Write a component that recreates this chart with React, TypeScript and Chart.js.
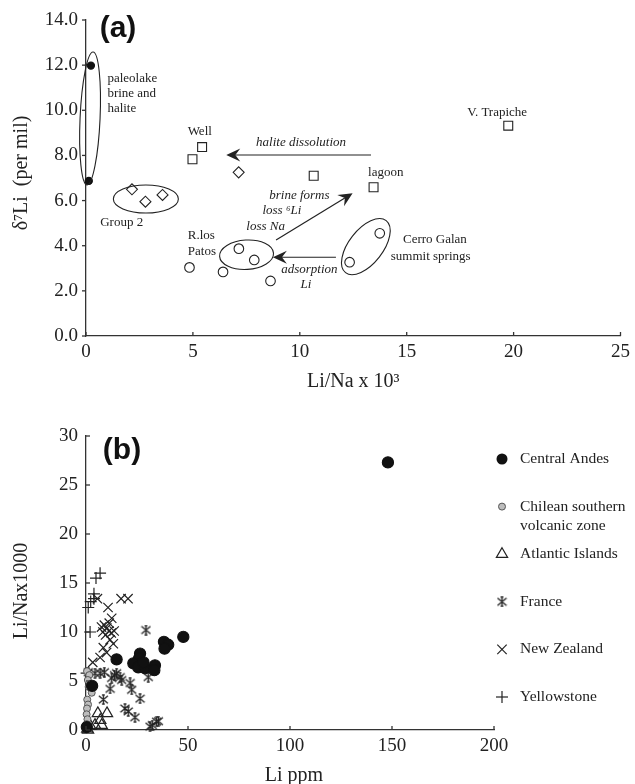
import React, { useEffect, useRef } from 'react';
import { Chart, registerables } from 'chart.js';

Chart.register(...registerables);

const SERIF = '"Liberation Serif", "Times New Roman", serif';
const SANS = '"Liberation Sans", Arial, sans-serif';
const INK = '#222';
const AXIS = '#333';

// ---------- Panel (a) data ----------
const aXTicks = [0, 5, 10, 15, 20, 25];
const aYTicks = [0, 2, 4, 6, 8, 10, 12, 14];
const aPaleoX = [0.23, 0.13];
const aPaleoY = [11.98, 6.87];
const aSquareX = [4.98, 5.43, 10.65, 13.45, 19.75];
const aSquareY = [7.83, 8.37, 7.1, 6.59, 9.32];
const aDiamondX = [2.15, 2.78, 3.58, 7.14];
const aDiamondY = [6.5, 5.95, 6.25, 7.25];
const aCircleX = [4.84, 6.41, 7.15, 7.87, 8.63, 12.33, 13.74];
const aCircleY = [3.04, 2.84, 3.87, 3.37, 2.44, 3.27, 4.55];

// ---------- Panel (b) data ----------
const bXTicks = [0, 50, 100, 150, 200];
const bYTicks = [0, 5, 10, 15, 20, 25, 30];
const bLegendNames = ['Central Andes', 'Chilean southern', 'Atlantic Islands', 'France', 'New Zealand', 'Yellowstone'];
const bAndesX = [148, 47.7, 38.2, 40.3, 38.5, 15.0, 26.5, 26.0, 23.2, 27.3, 25.6, 28.9, 28.2, 33.8, 33.5, 3.0, 0.4];
const bAndesY = [27.3, 9.5, 9.0, 8.7, 8.3, 7.2, 7.8, 7.3, 6.8, 6.8, 6.4, 6.3, 6.9, 6.6, 6.1, 4.5, 0.3];
const bChileX = [0.5, 1.6, 0.9, 1.3, 2.8, 0.6, 1.0, 0.5, 0.3, 0.7, 0.3, 0.5, 1.2];
const bChileY = [6.0, 5.6, 5.1, 4.4, 3.8, 3.1, 2.6, 2.2, 1.6, 1.1, 0.6, 0.2, 0.0];
const bAtlX = [5.8, 10.3, 7.0, 4.4, 7.7, 2.2, 0.6, 1.0];
const bAtlY = [1.7, 1.7, 1.0, 0.5, 0.5, 0.4, 0.1, 0.0];
const bFranceX = [29.4, 1.1, 4.4, 6.9, 9.0, 15.0, 16.7, 12.6, 14.0, 21.6, 11.8, 22.4, 30.5, 26.5, 8.5, 19.1, 20.7, 24.0, 31.4, 32.5, 34.6, 35.5, 17.5];
const bFranceY = [10.2, 5.9, 5.8, 5.8, 5.9, 5.8, 5.4, 5.3, 5.6, 4.8, 4.2, 4.1, 5.4, 3.2, 3.1, 2.2, 1.9, 1.3, 0.35, 0.5, 0.85, 0.9, 5.1];
const bNZX = [5.6, 10.8, 17.2, 20.6, 12.6, 11.4, 9.0, 10.2, 11.2, 8.3, 9.6, 12.4, 13.8, 7.6, 13.4, 11.8, 10.1, 8.5, 6.9, 3.3];
const bNZY = [13.4, 12.5, 13.4, 13.4, 11.4, 10.9, 10.7, 10.4, 10.1, 10.0, 9.7, 9.9, 10.1, 10.5, 8.8, 9.2, 7.9, 8.4, 7.4, 6.9];
const bYellX = [6.9, 4.9, 3.9, 2.3, 1.1, 2.0, 3.9, 0.3];
const bYellY = [16.0, 15.5, 13.9, 13.1, 12.5, 10.0, 13.4, 5.8];

// ---------- annotations for (a), anchored in data coordinates ----------
const aNotes = [
  { t: 'paleolake', x: 1.0, y: 11.4, left: true },
  { t: 'brine and', x: 1.0, y: 10.75, left: true },
  { t: 'halite', x: 1.0, y: 10.09, left: true },
  { t: 'Well', x: 5.32, y: 9.04 },
  { t: 'V. Trapiche', x: 19.23, y: 9.91 },
  { t: 'halite dissolution', x: 10.06, y: 8.56, it: true },
  { t: 'lagoon', x: 14.02, y: 7.25 },
  { t: 'Group 2', x: 1.67, y: 5.02 },
  { t: 'brine forms', x: 9.98, y: 6.22, it: true },
  { t: 'loss \u2076Li', x: 9.16, y: 5.54, it: true },
  { t: 'loss Na', x: 8.4, y: 4.84, it: true },
  { t: 'R.los', x: 4.76, y: 4.43, left: true },
  { t: 'Patos', x: 4.76, y: 3.72, left: true },
  { t: 'adsorption', x: 10.45, y: 2.96, it: true },
  { t: 'Li', x: 10.29, y: 2.29, it: true },
  { t: 'Cerro Galan', x: 16.32, y: 4.28 },
  { t: 'summit springs', x: 16.12, y: 3.54 },
];
const aEllipses = [
  { x: 0.19, y: 9.64, rx: 10, ry: 66.5, rot: 0.045 },
  { x: 2.8, y: 6.07, rx: 32.5, ry: 14, rot: 0 },
  { x: 7.51, y: 3.6, rx: 27, ry: 14.7, rot: -0.06 },
  { x: 13.09, y: 3.96, rx: 33, ry: 17, rot: (-52 * Math.PI) / 180 },
];
const aArrows = [
  { x1: 13.33, y1: 8.02, x2: 6.56, y2: 8.02 },
  { x1: 8.89, y1: 4.25, x2: 12.47, y2: 6.32 },
  { x1: 11.69, y1: 3.49, x2: 8.74, y2: 3.49 },
];

const pts = (xs: number[], ys: number[]) => xs.map((x, i) => ({ x, y: ys[i] }));

function seg(ctx: CanvasRenderingContext2D, x1: number, y1: number, x2: number, y2: number) {
  ctx.beginPath();
  ctx.moveTo(x1, y1);
  ctx.lineTo(x2, y2);
  ctx.stroke();
}

function arrow(ctx: CanvasRenderingContext2D, x1: number, y1: number, x2: number, y2: number) {
  const a = Math.atan2(y2 - y1, x2 - x1);
  const c = Math.cos(a), s = Math.sin(a);
  const L = 14, W = 6.5, N = 0.65;
  seg(ctx, x1, y1, x2 - c * L * N, y2 - s * L * N);
  ctx.beginPath();
  ctx.moveTo(x2, y2);
  ctx.lineTo(x2 - c * L + s * W, y2 - s * L - c * W);
  ctx.lineTo(x2 - c * L * N, y2 - s * L * N);
  ctx.lineTo(x2 - c * L - s * W, y2 - s * L + c * W);
  ctx.closePath();
  ctx.fill();
}

function makeStar(size: number) {
  const c = document.createElement('canvas');
  c.width = size;
  c.height = size;
  const g = c.getContext('2d')!;
  const h = size / 2, a = size / 2 - 1;
  g.strokeStyle = INK;
  g.lineWidth = 1.3;
  g.beginPath();
  g.moveTo(h - a, h - a * 0.85); g.lineTo(h + a, h + a * 0.85);
  g.moveTo(h - a, h + a * 0.85); g.lineTo(h + a, h - a * 0.85);
  g.moveTo(h, h - a); g.lineTo(h, h + a);
  g.moveTo(h - a * 0.3, h - a); g.lineTo(h + a * 0.3, h - a);
  g.moveTo(h - a * 0.3, h + a); g.lineTo(h + a * 0.3, h + a);
  g.stroke();
  return c;
}

function axis(min: number, max: number, step: number, kind: 'x' | 'y', fit: number, fmt?: (v: number) => string) {
  return {
    type: 'linear' as const,
    min,
    max,
    grid: { display: true, drawOnChartArea: false, drawTicks: false },
    border: { display: true, color: AXIS, width: 1.3 },
    ticks: {
      stepSize: step,
      color: INK,
      font: { family: SERIF, size: 19 },
      padding: kind === 'x' ? 5 : 8,
      maxRotation: 0,
      autoSkip: false,
      callback: (v: any) => (fmt ? fmt(Number(v)) : String(v)),
    },
    afterFit: (s: any) => {
      if (kind === 'x') s.height = fit;
      else s.width = fit;
    },
  };
}

const panelAPlugin = {
  id: 'panelA',
  afterDraw(chart: any) {
    const { ctx, chartArea: ca, scales } = chart;
    const X = (v: number) => scales.x.getPixelForValue(v);
    const Y = (v: number) => scales.y.getPixelForValue(v);
    ctx.save();
    ctx.strokeStyle = AXIS;
    ctx.lineWidth = 1.3;
    aYTicks.forEach((v) => seg(ctx, ca.left - 4, Y(v), ca.left, Y(v)));
    aXTicks.forEach((v) => seg(ctx, X(v), ca.bottom, X(v), ca.bottom - 4));

    ctx.strokeStyle = INK;
    ctx.fillStyle = INK;
    ctx.lineWidth = 1.1;
    aEllipses.forEach((e) => {
      ctx.beginPath();
      ctx.ellipse(X(e.x), Y(e.y), e.rx, e.ry, e.rot, 0, Math.PI * 2);
      ctx.stroke();
    });
    ctx.lineWidth = 1.2;
    aArrows.forEach((r) => arrow(ctx, X(r.x1), Y(r.y1), X(r.x2), Y(r.y2)));

    ctx.textBaseline = 'middle';
    aNotes.forEach((n) => {
      ctx.font = `${n.it ? 'italic ' : ''}13px ${SERIF}`;
      ctx.textAlign = n.left ? 'left' : 'center';
      ctx.fillText(n.t, X(n.x), Y(n.y));
    });

    ctx.font = `bold 30px ${SANS}`;
    ctx.textAlign = 'center';
    ctx.fillStyle = '#111';
    ctx.fillText('(a)', ca.left + 32, ca.top + 9);

    ctx.fillStyle = INK;
    ctx.font = `20px ${SERIF}`;
    ctx.fillText('Li/Na x 10\u00b3', (ca.left + ca.right) / 2, ca.bottom + 46);
    ctx.save();
    ctx.translate(ca.left - 64, (ca.top + ca.bottom) / 2 - 5);
    ctx.rotate(-Math.PI / 2);
    ctx.fillText('\u03b4\u2077Li  (per mil)', 0, 0);
    ctx.restore();
    ctx.restore();
  },
};

function legendMarker(ctx: CanvasRenderingContext2D, i: number, x: number, y: number, star: HTMLCanvasElement) {
  ctx.save();
  ctx.strokeStyle = INK;
  ctx.fillStyle = INK;
  ctx.lineWidth = 1.2;
  if (i === 0) {
    ctx.fillStyle = '#111';
    ctx.beginPath();
    ctx.arc(x, y, 5.5, 0, Math.PI * 2);
    ctx.fill();
  } else if (i === 1) {
    ctx.fillStyle = '#bdbdbd';
    ctx.strokeStyle = '#555';
    ctx.lineWidth = 1;
    ctx.beginPath();
    ctx.arc(x, y, 3.5, 0, Math.PI * 2);
    ctx.fill();
    ctx.stroke();
  } else if (i === 2) {
    const r = 6.5;
    ctx.beginPath();
    ctx.moveTo(x, y - r);
    ctx.lineTo(x + r * 0.866, y + r * 0.5);
    ctx.lineTo(x - r * 0.866, y + r * 0.5);
    ctx.closePath();
    ctx.stroke();
  } else if (i === 3) {
    ctx.drawImage(star, x - star.width / 2, y - star.height / 2);
  } else if (i === 4) {
    const h = 4.7;
    seg(ctx, x - h, y - h, x + h, y + h);
    seg(ctx, x - h, y + h, x + h, y - h);
  } else {
    const h = 6;
    seg(ctx, x - h, y, x + h, y);
    seg(ctx, x, y - h, x, y + h);
  }
  ctx.restore();
}

function makePanelBPlugin(star: HTMLCanvasElement) {
  return {
    id: 'panelB',
    afterDraw(chart: any) {
      const { ctx, chartArea: ca, scales } = chart;
      const X = (v: number) => scales.x.getPixelForValue(v);
      const Y = (v: number) => scales.y.getPixelForValue(v);
      ctx.save();
      ctx.strokeStyle = AXIS;
      ctx.lineWidth = 1.3;
      bYTicks.forEach((v) => seg(ctx, ca.left, Y(v), ca.left + 4, Y(v)));
      bXTicks.forEach((v) => seg(ctx, X(v), ca.bottom, X(v), ca.bottom - 4));

      ctx.textBaseline = 'middle';
      ctx.textAlign = 'left';
      ctx.fillStyle = INK;
      ctx.font = `15.5px ${SERIF}`;
      bLegendNames.forEach((name, i) => {
        const y = ca.top + 23 + i * 47.6;
        legendMarker(ctx, i, ca.right + 8, y, star);
        ctx.fillStyle = INK;
        ctx.fillText(name, ca.right + 26, y);
        if (i === 1) ctx.fillText('volcanic zone', ca.right + 26, y + 19);
      });

      ctx.font = `bold 30px ${SANS}`;
      ctx.textAlign = 'center';
      ctx.fillStyle = '#111';
      ctx.fillText('(b)', ca.left + 36, ca.top + 15);

      ctx.fillStyle = INK;
      ctx.font = `20px ${SERIF}`;
      ctx.fillText('Li ppm', (ca.left + ca.right) / 2 + 4, ca.bottom + 46);
      ctx.save();
      ctx.translate(ca.left - 64, (ca.top + ca.bottom) / 2 + 8);
      ctx.rotate(-Math.PI / 2);
      ctx.fillText('Li/Nax1000', 0, 0);
      ctx.restore();
      ctx.restore();
    },
  };
}

const baseOpts = {
  responsive: false,
  animation: false as const,
  events: [] as any[],
  plugins: { legend: { display: false }, tooltip: { enabled: false } },
};

export default function App() {
  const refA = useRef<HTMLCanvasElement>(null);
  const refB = useRef<HTMLCanvasElement>(null);

  useEffect(() => {
    const star = makeStar(11);
    const open = { backgroundColor: '#fff', borderColor: INK, pointBorderWidth: 1.1, clip: false as const, showLine: false };

    const chartA = new Chart(refA.current!, {
      type: 'scatter',
      data: {
        datasets: [
          { ...open, data: pts(aPaleoX, aPaleoY), pointStyle: 'circle', pointRadius: 3.6, backgroundColor: '#111', borderColor: '#111' },
          { ...open, data: pts(aSquareX, aSquareY), pointStyle: 'rect', pointRadius: 6.3 },
          { ...open, data: pts(aDiamondX, aDiamondY), pointStyle: 'rectRot', pointRadius: 5.5 },
          { ...open, data: pts(aCircleX, aCircleY), pointStyle: 'circle', pointRadius: 4.8 },
        ],
      },
      options: {
        ...baseOpts,
        layout: { padding: { top: 20, right: 13, left: 0, bottom: 0 } },
        scales: {
          x: axis(0, 25, 5, 'x', 64),
          y: axis(0, 14, 2, 'y', 86, (v) => v.toFixed(1)),
        },
      } as any,
      plugins: [panelAPlugin],
    });

    const chartB = new Chart(refB.current!, {
      type: 'scatter',
      data: {
        datasets: [
          { ...open, data: pts(bAndesX, bAndesY), pointStyle: 'circle', pointRadius: 5.6, backgroundColor: '#111', borderColor: '#111' },
          { ...open, data: pts(bChileX, bChileY), pointStyle: 'circle', pointRadius: 3.5, backgroundColor: '#bdbdbd', borderColor: '#555', pointBorderWidth: 1 },
          { ...open, data: pts(bAtlX, bAtlY), pointStyle: 'triangle', pointRadius: 6.5, backgroundColor: 'rgba(0,0,0,0)', pointBorderWidth: 1.2 },
          { ...open, data: pts(bFranceX, bFranceY), pointStyle: star as any, pointRadius: 5.5 },
          { ...open, data: pts(bNZX, bNZY), pointStyle: 'crossRot', pointRadius: 6.6, pointBorderWidth: 1.2 },
          { ...open, data: pts(bYellX, bYellY), pointStyle: 'cross', pointRadius: 6, pointBorderWidth: 1.2 },
        ],
      },
      options: {
        ...baseOpts,
        layout: { padding: { top: 36, right: 141, left: 0, bottom: 0 } },
        scales: {
          x: axis(0, 200, 50, 'x', 54),
          y: axis(0, 30, 5, 'y', 86),
        },
      } as any,
      plugins: [makePanelBPlugin(star)],
    });

    return () => {
      chartA.destroy();
      chartB.destroy();
    };
  }, []);

  return (
    <div style={{ position: 'absolute', left: 0, top: 0, width: 635, height: 784, background: '#fff' }}>
      <canvas ref={refA} width={635} height={400} style={{ position: 'absolute', left: 0, top: 0 }} />
      <canvas ref={refB} width={635} height={384} style={{ position: 'absolute', left: 0, top: 400 }} />
    </div>
  );
}
